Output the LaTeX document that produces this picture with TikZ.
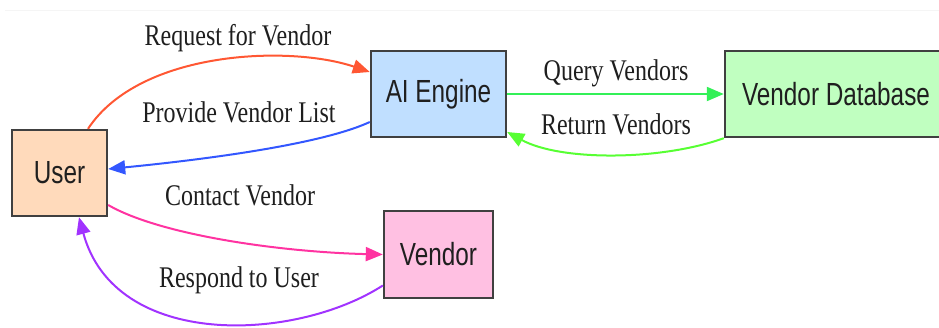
\documentclass[tikz,border=0pt]{standalone}
\usepackage{fontspec}
\setmainfont{Liberation Serif}[FakeStretch=0.8]
\newfontfamily\boxfont{Liberation Sans}[FakeStretch=0.76]
\usetikzlibrary{arrows.meta,calc}

\definecolor{boxline}{HTML}{404040}
\definecolor{userfill}{HTML}{FFDABB}
\definecolor{enginefill}{HTML}{C0DFFF}
\definecolor{dbfill}{HTML}{C0FFC0}
\definecolor{vendorfill}{HTML}{FFC0E2}
\definecolor{edgered}{HTML}{FF5733}
\definecolor{edgeblue}{HTML}{3357FF}
\definecolor{edgegreen}{HTML}{33F057}
\definecolor{edgelime}{HTML}{57FF33}
\definecolor{edgepink}{HTML}{FF33A1}
\definecolor{edgepurple}{HTML}{A133FF}
\definecolor{labeltext}{HTML}{1E1E1E}

\tikzset{
  box/.style={draw=boxline, line width=2.4pt, inner sep=0pt,
    minimum height=86pt, font=\boxfont\fontsize{32}{36}\selectfont, text=black!88},
  flow/.style={line width=2pt, -{Triangle[length=17pt,width=14pt]}},
  tag/.style={font=\fontsize{30}{34}\selectfont, text=labeltext, inner sep=0pt}
}

\begin{document}
\begin{tikzpicture}[x=1pt,y=-1pt]
  \useasboundingbox (0,0) rectangle (939,327);
  \clip (0,0) rectangle (939,327);

  % faint rule along the top
  \draw[gray!8, line width=1pt] (5,10.5) -- (939,10.5);

  % boxes
  \node[box, fill=userfill,   minimum width=95pt]  (user)   at (59.5,173)   {User};
  \node[box, fill=enginefill, minimum width=135pt] (engine) at (438.5,94)   {AI Engine};
  \node[box, fill=dbfill,     minimum width=222pt] (db)     at (836,94)     {Vendor Database};
  \node[box, fill=vendorfill, minimum width=109pt, minimum height=87pt] (vendor) at (438.5,254.5) {Vendor};

  % user <-> engine
  \draw[flow, edgered]
    ($(user.north)+(28.5,0)$) .. controls (140,50) and (290,45) .. ($(engine.west)+(0,-22)$);
  \draw[flow, edgeblue]
    ($(engine.west)+(0,28)$) .. controls (320,145) and (200,160) .. ($(user.east)+(0,-4)$);

  % engine <-> database
  \draw[flow, edgegreen] (engine.east) -- (db.west);
  \draw[flow, edgelime]
    (db.south west) .. controls (660,161) and (560,161) .. ($(engine.east)+(0,38)$);

  % user <-> vendor
  \draw[flow, edgepink]
    ($(user.east)+(0,32)$) .. controls (160,235) and (280,252) .. (vendor.west);
  \draw[flow, edgepurple]
    ($(vendor.west)+(0,31)$) .. controls (295,342) and (115,350) .. ($(user.south)+(19.5,0)$);

  % edge labels
  \node[tag] (l1) at (238,38)  {Request for Vendor};
  \node[tag] (l2) at (239,112) {Provide Vendor List};
  \node[tag] (l3) at (616,73)  {Query Vendors};
  \node[tag] (l4) at (616,124) {Return Vendors};
  \node[tag] (l5) at (240,195) {Contact Vendor};
  \node[tag] (l6) at (239,280) {Respond to User};
\end{tikzpicture}
\end{document}
